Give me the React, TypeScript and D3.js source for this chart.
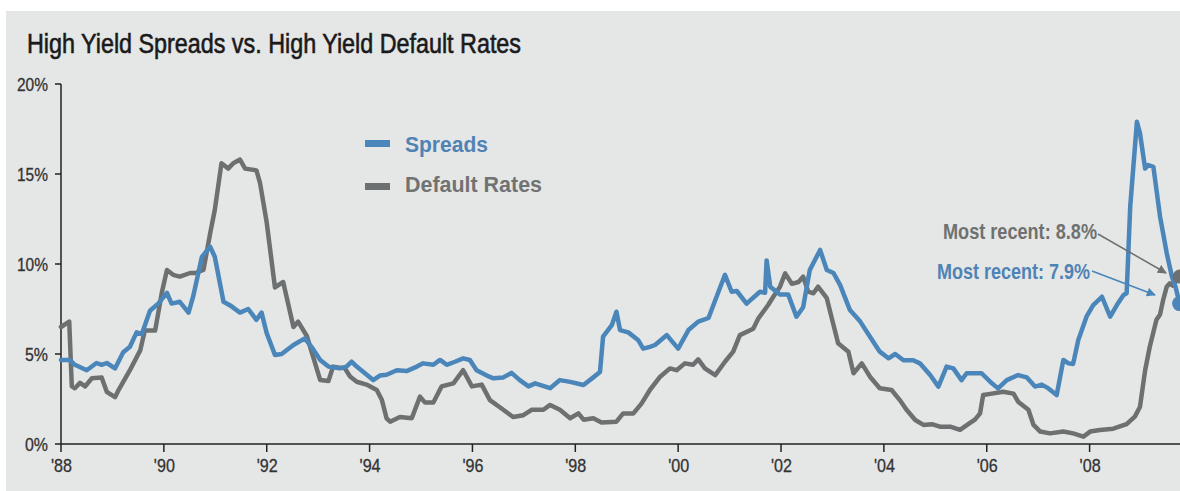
import React from 'react';
import * as d3 from 'd3';

const titleText = 'High Yield Spreads vs. High Yield Default Rates';
const yTickValues = [0, 5, 10, 15, 20];
const yTickLabels = ['0%', '5%', '10%', '15%', '20%'];
const xTickYears = [1988, 1990, 1992, 1994, 1996, 1998, 2000, 2002, 2004, 2006, 2008];
const xTickLabels = ["'88", "'90", "'92", "'94", "'96", "'98", "'00", "'02", "'04", "'06", "'08"];
const legendLabels = ['Spreads', 'Default Rates'];
const annotationLabels = ['Most recent: 8.8%', 'Most recent: 7.9%'];

const spreadYears = [
  1988.0, 1988.17, 1988.27, 1988.5, 1988.69, 1988.79, 1988.89, 1989.05, 1989.21, 1989.34,
  1989.47, 1989.57, 1989.73, 1989.89, 1990.06, 1990.15, 1990.31, 1990.48, 1990.57, 1990.74,
  1990.9, 1990.99, 1991.16, 1991.29, 1991.48, 1991.64, 1991.8, 1991.9, 1992.0, 1992.16,
  1992.29, 1992.52, 1992.74, 1992.87, 1993.04, 1993.2, 1993.42, 1993.55, 1993.65, 1993.75,
  1993.88, 1994.07, 1994.2, 1994.33, 1994.53, 1994.72, 1994.92, 1995.04, 1995.24, 1995.37,
  1995.5, 1995.66, 1995.82, 1995.95, 1996.08, 1996.28, 1996.41, 1996.6, 1996.76, 1996.92,
  1997.09, 1997.22, 1997.51, 1997.7, 1997.9, 1998.16, 1998.35, 1998.48, 1998.54, 1998.71,
  1998.8, 1998.87, 1999.03, 1999.22, 1999.32, 1999.45, 1999.55, 1999.78, 2000.0, 2000.2,
  2000.39, 2000.59, 2000.91, 2001.04, 2001.14, 2001.33, 2001.59, 2001.69, 2001.72, 2001.79,
  2001.98, 2002.14, 2002.3, 2002.43, 2002.56, 2002.76, 2002.89, 2003.02, 2003.15, 2003.34,
  2003.54, 2003.73, 2003.92, 2004.09, 2004.22, 2004.38, 2004.57, 2004.7, 2004.9, 2005.06,
  2005.22, 2005.35, 2005.51, 2005.61, 2005.9, 2006.1, 2006.22, 2006.39, 2006.61, 2006.78,
  2006.94, 2007.07, 2007.2, 2007.36, 2007.49, 2007.59, 2007.68, 2007.78, 2007.94, 2008.07,
  2008.24, 2008.4, 2008.53, 2008.66, 2008.72, 2008.79, 2008.92, 2008.98, 2009.08, 2009.14,
  2009.24, 2009.37, 2009.5, 2009.6, 2009.67, 2009.75,
];
const spreadValues = [
  4.67, 4.67, 4.4, 4.1, 4.5, 4.4, 4.5, 4.2, 5.1, 5.4,
  6.2, 6.1, 7.4, 7.8, 8.4, 7.8, 7.9, 7.3, 8.2, 10.4,
  10.96, 10.4, 7.9, 7.7, 7.3, 7.5, 6.9, 7.3, 6.15, 4.95,
  5.0, 5.5, 5.87, 5.4, 4.67, 4.3, 4.2, 4.3, 4.57, 4.3,
  4.0, 3.55, 3.8, 3.85, 4.1, 4.05, 4.3, 4.48, 4.4, 4.67,
  4.4, 4.57, 4.76, 4.67, 4.1, 3.8, 3.65, 3.7, 3.95, 3.55,
  3.2, 3.37, 3.1, 3.55, 3.45, 3.28, 3.7, 4.0, 5.96, 6.6,
  7.35, 6.33, 6.2, 5.78, 5.3, 5.4, 5.5, 6.05, 5.3, 6.33,
  6.8, 7.0, 9.4, 8.46, 8.5, 7.8, 8.46, 8.4, 10.2, 8.74,
  8.3, 8.3, 7.07, 7.6, 9.67, 10.78, 9.67, 9.5, 8.83, 7.44,
  6.8, 5.96, 5.13, 4.76, 5.0, 4.65, 4.65, 4.48, 3.83, 3.19,
  4.3, 4.2, 3.55, 3.93, 3.93, 3.37, 3.09, 3.55, 3.83, 3.7,
  3.19, 3.3, 3.09, 2.72, 4.67, 4.48, 4.45, 5.78, 7.07, 7.72,
  8.18, 7.07, 7.72, 8.28, 8.37, 13.2, 17.9, 17.26, 15.3, 15.5,
  15.4, 12.63, 10.6, 9.3, 8.74, 7.8,
];

const defaultYears = [
  1988.0, 1988.16, 1988.21, 1988.27, 1988.37, 1988.47, 1988.6, 1988.79, 1988.89, 1989.05,
  1989.11, 1989.34, 1989.54, 1989.63, 1989.83, 1989.96, 1990.06, 1990.18, 1990.31, 1990.51,
  1990.61, 1990.77, 1990.9, 1990.99, 1991.12, 1991.25, 1991.35, 1991.48, 1991.58, 1991.8,
  1991.87, 1992.0, 1992.16, 1992.32, 1992.52, 1992.61, 1992.78, 1993.04, 1993.2, 1993.29,
  1993.52, 1993.62, 1993.75, 1993.94, 1994.14, 1994.24, 1994.33, 1994.4, 1994.59, 1994.82,
  1994.98, 1995.08, 1995.24, 1995.4, 1995.63, 1995.82, 1995.99, 1996.18, 1996.34, 1996.6,
  1996.79, 1996.99, 1997.15, 1997.38, 1997.51, 1997.7, 1997.9, 1998.06, 1998.16, 1998.35,
  1998.51, 1998.8, 1998.93, 1999.13, 1999.29, 1999.45, 1999.65, 1999.84, 1999.97, 2000.13,
  2000.29, 2000.39, 2000.52, 2000.72, 2000.91, 2001.07, 2001.2, 2001.46, 2001.56, 2001.75,
  2001.85, 2001.98, 2002.08, 2002.21, 2002.34, 2002.43, 2002.53, 2002.63, 2002.72, 2002.89,
  2002.98, 2003.11, 2003.31, 2003.41, 2003.57, 2003.73, 2003.92, 2004.15, 2004.31, 2004.44,
  2004.61, 2004.77, 2004.93, 2005.09, 2005.29, 2005.48, 2005.64, 2005.77, 2005.87, 2005.93,
  2006.1, 2006.32, 2006.52, 2006.61, 2006.81, 2006.91, 2007.04, 2007.23, 2007.49, 2007.68,
  2007.88, 2008.01, 2008.2, 2008.46, 2008.72, 2008.88, 2008.98, 2009.08, 2009.17, 2009.3,
  2009.37, 2009.43, 2009.5, 2009.56, 2009.62, 2009.75,
];
const defaultValues = [
  6.5, 6.8, 3.2, 3.1, 3.4, 3.2, 3.65, 3.7, 2.9, 2.6,
  2.95, 4.1, 5.2, 6.3, 6.3, 8.4, 9.67, 9.4, 9.3, 9.5,
  9.5, 9.67, 11.7, 13.0, 15.6, 15.3, 15.6, 15.8, 15.3, 15.2,
  14.5, 12.3, 8.7, 9.0, 6.5, 6.8, 6.0, 3.55, 3.5, 4.3,
  4.2, 3.75, 3.46, 3.3, 3.0, 2.44, 1.43, 1.24, 1.5, 1.43,
  2.63, 2.3, 2.3, 3.2, 3.37, 4.1, 3.2, 3.3, 2.44, 1.9,
  1.5, 1.6, 1.9, 1.9, 2.17, 1.9, 1.43, 1.7, 1.35, 1.43,
  1.19, 1.24, 1.7, 1.7, 2.26, 3.0, 3.74, 4.2, 4.1, 4.48,
  4.4, 4.7, 4.2, 3.83, 4.57, 5.13, 6.05, 6.4, 6.98, 7.72,
  8.18, 8.74, 9.48, 8.9, 9.0, 9.3, 8.46, 8.37, 8.74, 8.1,
  7.07, 5.6, 5.13, 3.93, 4.48, 3.74, 3.1, 3.0, 2.44, 1.9,
  1.33, 1.06, 1.1, 0.96, 0.96, 0.78, 1.1, 1.35, 1.7, 2.72,
  2.8, 2.9, 2.8, 2.35, 1.9, 1.06, 0.69, 0.59, 0.69, 0.59,
  0.41, 0.69, 0.78, 0.85, 1.1, 1.52, 2.07, 4.1, 5.4, 6.9,
  7.2, 8.0, 8.74, 8.93, 8.8, 9.3,
];

const W = 1180;
const H = 491;
const FONT = '"Liberation Sans", Arial, sans-serif';
const BLUE = '#4a86b9';
const GRAY = '#6d7070';

export default function App() {
  const x = d3.scaleLinear().domain([1988, 2008]).range([61, 1089.6]);
  const y = d3.scaleLinear().domain([0, 20]).range([444, 84]);

  const line = d3
    .line<[number, number]>()
    .x((d) => x(d[0]))
    .y((d) => y(d[1]))
    .curve(d3.curveLinear);

  const spreadPts: [number, number][] = spreadYears.map((t, i) => [t, spreadValues[i]]);
  const defaultPts: [number, number][] = defaultYears.map((t, i) => [t, defaultValues[i]]);
  const lastS = spreadPts[spreadPts.length - 1];
  const lastD = defaultPts[defaultPts.length - 1];

  return (
    <svg
      width={W}
      height={H}
      style={{ position: 'absolute', left: 0, top: 0, display: 'block' }}
      fontFamily={FONT}
    >
      <defs>
        <marker id="arrGray" viewBox="0 0 10 10" refX="9" refY="5" markerWidth="11" markerHeight="9"
          markerUnits="userSpaceOnUse" orient="auto">
          <path d="M0,0 L10,5 L0,10 z" fill="#6d7070" />
        </marker>
        <marker id="arrBlue" viewBox="0 0 10 10" refX="9" refY="5" markerWidth="11" markerHeight="9"
          markerUnits="userSpaceOnUse" orient="auto">
          <path d="M0,0 L10,5 L0,10 z" fill={BLUE} />
        </marker>
      </defs>
      <rect x={0} y={0} width={W} height={H} fill="#ffffff" />
      <rect x={6} y={11} width={W - 6} height={H - 11} fill="#e5e6e6" />

      <text x={27} y={53} fontSize={27.5} fill="#1a1a1a" stroke="#1a1a1a" strokeWidth={0.6}
        textLength={494} lengthAdjust="spacingAndGlyphs">
        {titleText}
      </text>

      {/* axes */}
      <line x1={61} x2={61} y1={y(20)} y2={y(0)} stroke="#222" strokeWidth={1.5} />
      <line x1={61} x2={W} y1={y(0)} y2={y(0)} stroke="#222" strokeWidth={1.5} />
      {yTickValues.map((v, i) => {
        const w = yTickLabels[i].length === 3 ? 31 : 23;
        return (
          <g key={'y' + v}>
            <line x1={55} x2={61} y1={y(v)} y2={y(v)} stroke="#222" strokeWidth={1.5} />
            <text x={48 - w} y={y(v) + 6.5} fontSize={18} fill="#333" stroke="#333" strokeWidth={0.3}
              textLength={w} lengthAdjust="spacingAndGlyphs">
              {yTickLabels[i]}
            </text>
          </g>
        );
      })}
      {xTickYears.map((t, i) => (
        <g key={'x' + t}>
          <line x1={x(t)} x2={x(t)} y1={y(0)} y2={y(0) + 8} stroke="#222" strokeWidth={1.5} />
          <text x={x(t) + 0.5 - 10.5} y={472} fontSize={19} fill="#333" stroke="#333" strokeWidth={0.3}
            textLength={21} lengthAdjust="spacingAndGlyphs">
            {xTickLabels[i]}
          </text>
        </g>
      ))}

      {/* series */}
      <path d={line(defaultPts) || ''} fill="none" stroke={GRAY} strokeWidth={4.5} strokeLinejoin="round"
        strokeLinecap="round" />
      <path d={line(spreadPts) || ''} fill="none" stroke={BLUE} strokeWidth={4.5} strokeLinejoin="round"
        strokeLinecap="round" />
      <circle cx={x(lastD[0])} cy={y(lastD[1])} r={7} fill={GRAY} />
      <circle cx={x(lastS[0])} cy={y(lastS[1])} r={7.5} fill={BLUE} />

      {/* legend */}
      <rect x={365} y={140} width={25} height={7} fill={BLUE} />
      <text x={405} y={152} fontSize={22.5} fontWeight="bold" fill="#5083b4" textLength={83}
        lengthAdjust="spacingAndGlyphs">
        {legendLabels[0]}
      </text>
      <rect x={365} y={183} width={25} height={7} fill={GRAY} />
      <text x={405} y={192} fontSize={22.5} fontWeight="bold" fill="#717373" textLength={137}
        lengthAdjust="spacingAndGlyphs">
        {legendLabels[1]}
      </text>

      {/* annotations */}
      <text x={943} y={238.5} fontSize={21.5} fontWeight="bold" fill="#6f7171" textLength={154}
        lengthAdjust="spacingAndGlyphs">
        {annotationLabels[0]}
      </text>
      <line x1={1098} y1={234} x2={1166} y2={273} stroke={GRAY} strokeWidth={1.5} markerEnd="url(#arrGray)" />
      <text x={937} y={278.5} fontSize={21.5} fontWeight="bold" fill="#4f83b5" textLength={153}
        lengthAdjust="spacingAndGlyphs">
        {annotationLabels[1]}
      </text>
      <line x1={1092} y1={271} x2={1155} y2={295} stroke={BLUE} strokeWidth={1.5} markerEnd="url(#arrBlue)" />
    </svg>
  );
}
